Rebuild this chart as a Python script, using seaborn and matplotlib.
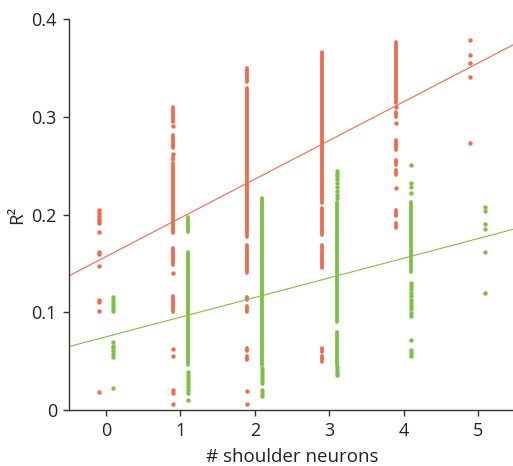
import numpy as np
import pandas as pd
import matplotlib
matplotlib.use("Agg")
import matplotlib.pyplot as plt
import seaborn as sns

# ---------------- data ----------------
neuron_counts = [0, 1, 2, 3, 4, 5]
x_ticklabels = ["0", "1", "2", "3", "4", "5"]
y_ticks = [0, 0.1, 0.2, 0.3, 0.4]
y_ticklabels = ["0", "0.1", "0.2", "0.3", "0.4"]

# isolated R^2 values per neuron count (orange series)
orange_dots = {
    0: [0.205, 0.202, 0.199, 0.196, 0.193, 0.191, 0.182, 0.162, 0.160, 0.147,
        0.113, 0.111, 0.101, 0.018],
    1: [0.291, 0.262, 0.140, 0.062, 0.055, 0.020, 0.017, 0.006],
    2: [0.019, 0.006],
    3: [],
    4: [0.310, 0.294, 0.2275],
    5: [0.379, 0.363, 0.355, 0.341, 0.273],
}
# dense runs of R^2 values (lo, hi) per neuron count (orange series)
orange_runs = {
    0: [],
    1: [(0.295, 0.310), (0.268, 0.281), (0.256, 0.259), (0.181, 0.253),
        (0.148, 0.166), (0.100, 0.117)],
    2: [(0.336, 0.350), (0.177, 0.330), (0.140, 0.169), (0.113, 0.116),
        (0.100, 0.106), (0.060, 0.063), (0.051, 0.055)],
    3: [(0.212, 0.366), (0.179, 0.207), (0.166, 0.169), (0.145, 0.164),
        (0.059, 0.063), (0.049, 0.055)],
    4: [(0.314, 0.377), (0.300, 0.305), (0.266, 0.276), (0.251, 0.256),
        (0.241, 0.246), (0.199, 0.205), (0.186, 0.191)],
    5: [],
}
green_dots = {
    0: [0.116, 0.113, 0.110, 0.107, 0.104, 0.101, 0.070, 0.066, 0.063, 0.060,
        0.057, 0.054, 0.023],
    1: [0.039, 0.036, 0.033, 0.030, 0.027, 0.024, 0.020, 0.017, 0.010],
    2: [0.043, 0.040, 0.037, 0.034, 0.031, 0.028, 0.020, 0.017, 0.014],
    3: [0.245, 0.242, 0.239, 0.236, 0.232, 0.228, 0.224, 0.220, 0.217,
        0.044, 0.041, 0.038, 0.036],
    4: [0.251, 0.232, 0.228, 0.222, 0.130, 0.127, 0.124, 0.120, 0.117, 0.113,
        0.110, 0.106, 0.103, 0.099, 0.096, 0.072, 0.061, 0.058, 0.055],
    5: [0.208, 0.204, 0.190, 0.185, 0.162, 0.120],
}
green_runs = {
    0: [],
    1: [(0.182, 0.198), (0.046, 0.162)],
    2: [(0.046, 0.217)],
    3: [(0.090, 0.213), (0.046, 0.080)],
    4: [(0.147, 0.213), (0.141, 0.145)],
    5: [],
}
# linear fits R^2 = intercept + slope * n
orange_fit = (0.157, 0.0396)
green_fit = (0.0749, 0.0201)

orange = "#F2694C"
green = "#7DC142"
offsets = {"orange": -0.1, "green": 0.1}

# ---------------- build tables ----------------
def dots_frame(d, off):
    rows = [(n + off, v) for n, vals in d.items() for v in vals]
    return pd.DataFrame(rows, columns=["x", "y"])

def runs_frame(d, off):
    rows = []
    k = 0
    for n, runs in d.items():
        for lo, hi in runs:
            rows.append((n + off, lo, k))
            rows.append((n + off, hi, k))
            k += 1
    return pd.DataFrame(rows, columns=["x", "y", "run"])

sns.set_theme(style="ticks")
plt.rcParams["font.family"] = ["Open Sans", "DejaVu Sans"]

fig = plt.figure(figsize=(5.13, 4.66), dpi=100)
ax = fig.add_axes([0.1341, 0.1202, 0.870, 0.8386])

xlim = (-0.5, 5.5)
fit_x = np.array(xlim)

for dots, runs, off, col, fit in [
    (orange_dots, orange_runs, offsets["orange"], orange, orange_fit),
    (green_dots, green_runs, offsets["green"], green, green_fit),
]:
    rf = runs_frame(runs, off)
    sns.lineplot(data=rf, x="x", y="y", units="run", estimator=None, sort=False,
                 color=col, lw=2.7, solid_capstyle="round", ax=ax, legend=False)
    df = dots_frame(dots, off)
    sns.scatterplot(data=df, x="x", y="y", color=col, s=10, linewidth=0,
                    ax=ax, legend=False)
    sns.lineplot(x=fit_x, y=fit[0] + fit[1] * fit_x, color=col, lw=0.8,
                 ax=ax, legend=False)

ax.set_xlim(*xlim)
ax.set_ylim(0, 0.4)
ax.set_xticks(neuron_counts)
ax.set_xticklabels(x_ticklabels)
ax.set_yticks(y_ticks)
ax.set_yticklabels(y_ticklabels)
ax.set_xlabel("# shoulder neurons", fontsize=13.5, color="#222222", labelpad=6)
ax.set_ylabel("R²", fontsize=13.5, color="#222222", labelpad=4)

for side in ["top", "right"]:
    ax.spines[side].set_visible(False)
for side in ["left", "bottom"]:
    ax.spines[side].set_color("#333333")
    ax.spines[side].set_linewidth(1.0)
ax.tick_params(axis="both", direction="out", length=4.5, width=1.0,
               color="#333333", labelsize=13, labelcolor="#222222", pad=4)

fig.savefig("out.png", dpi=100)
